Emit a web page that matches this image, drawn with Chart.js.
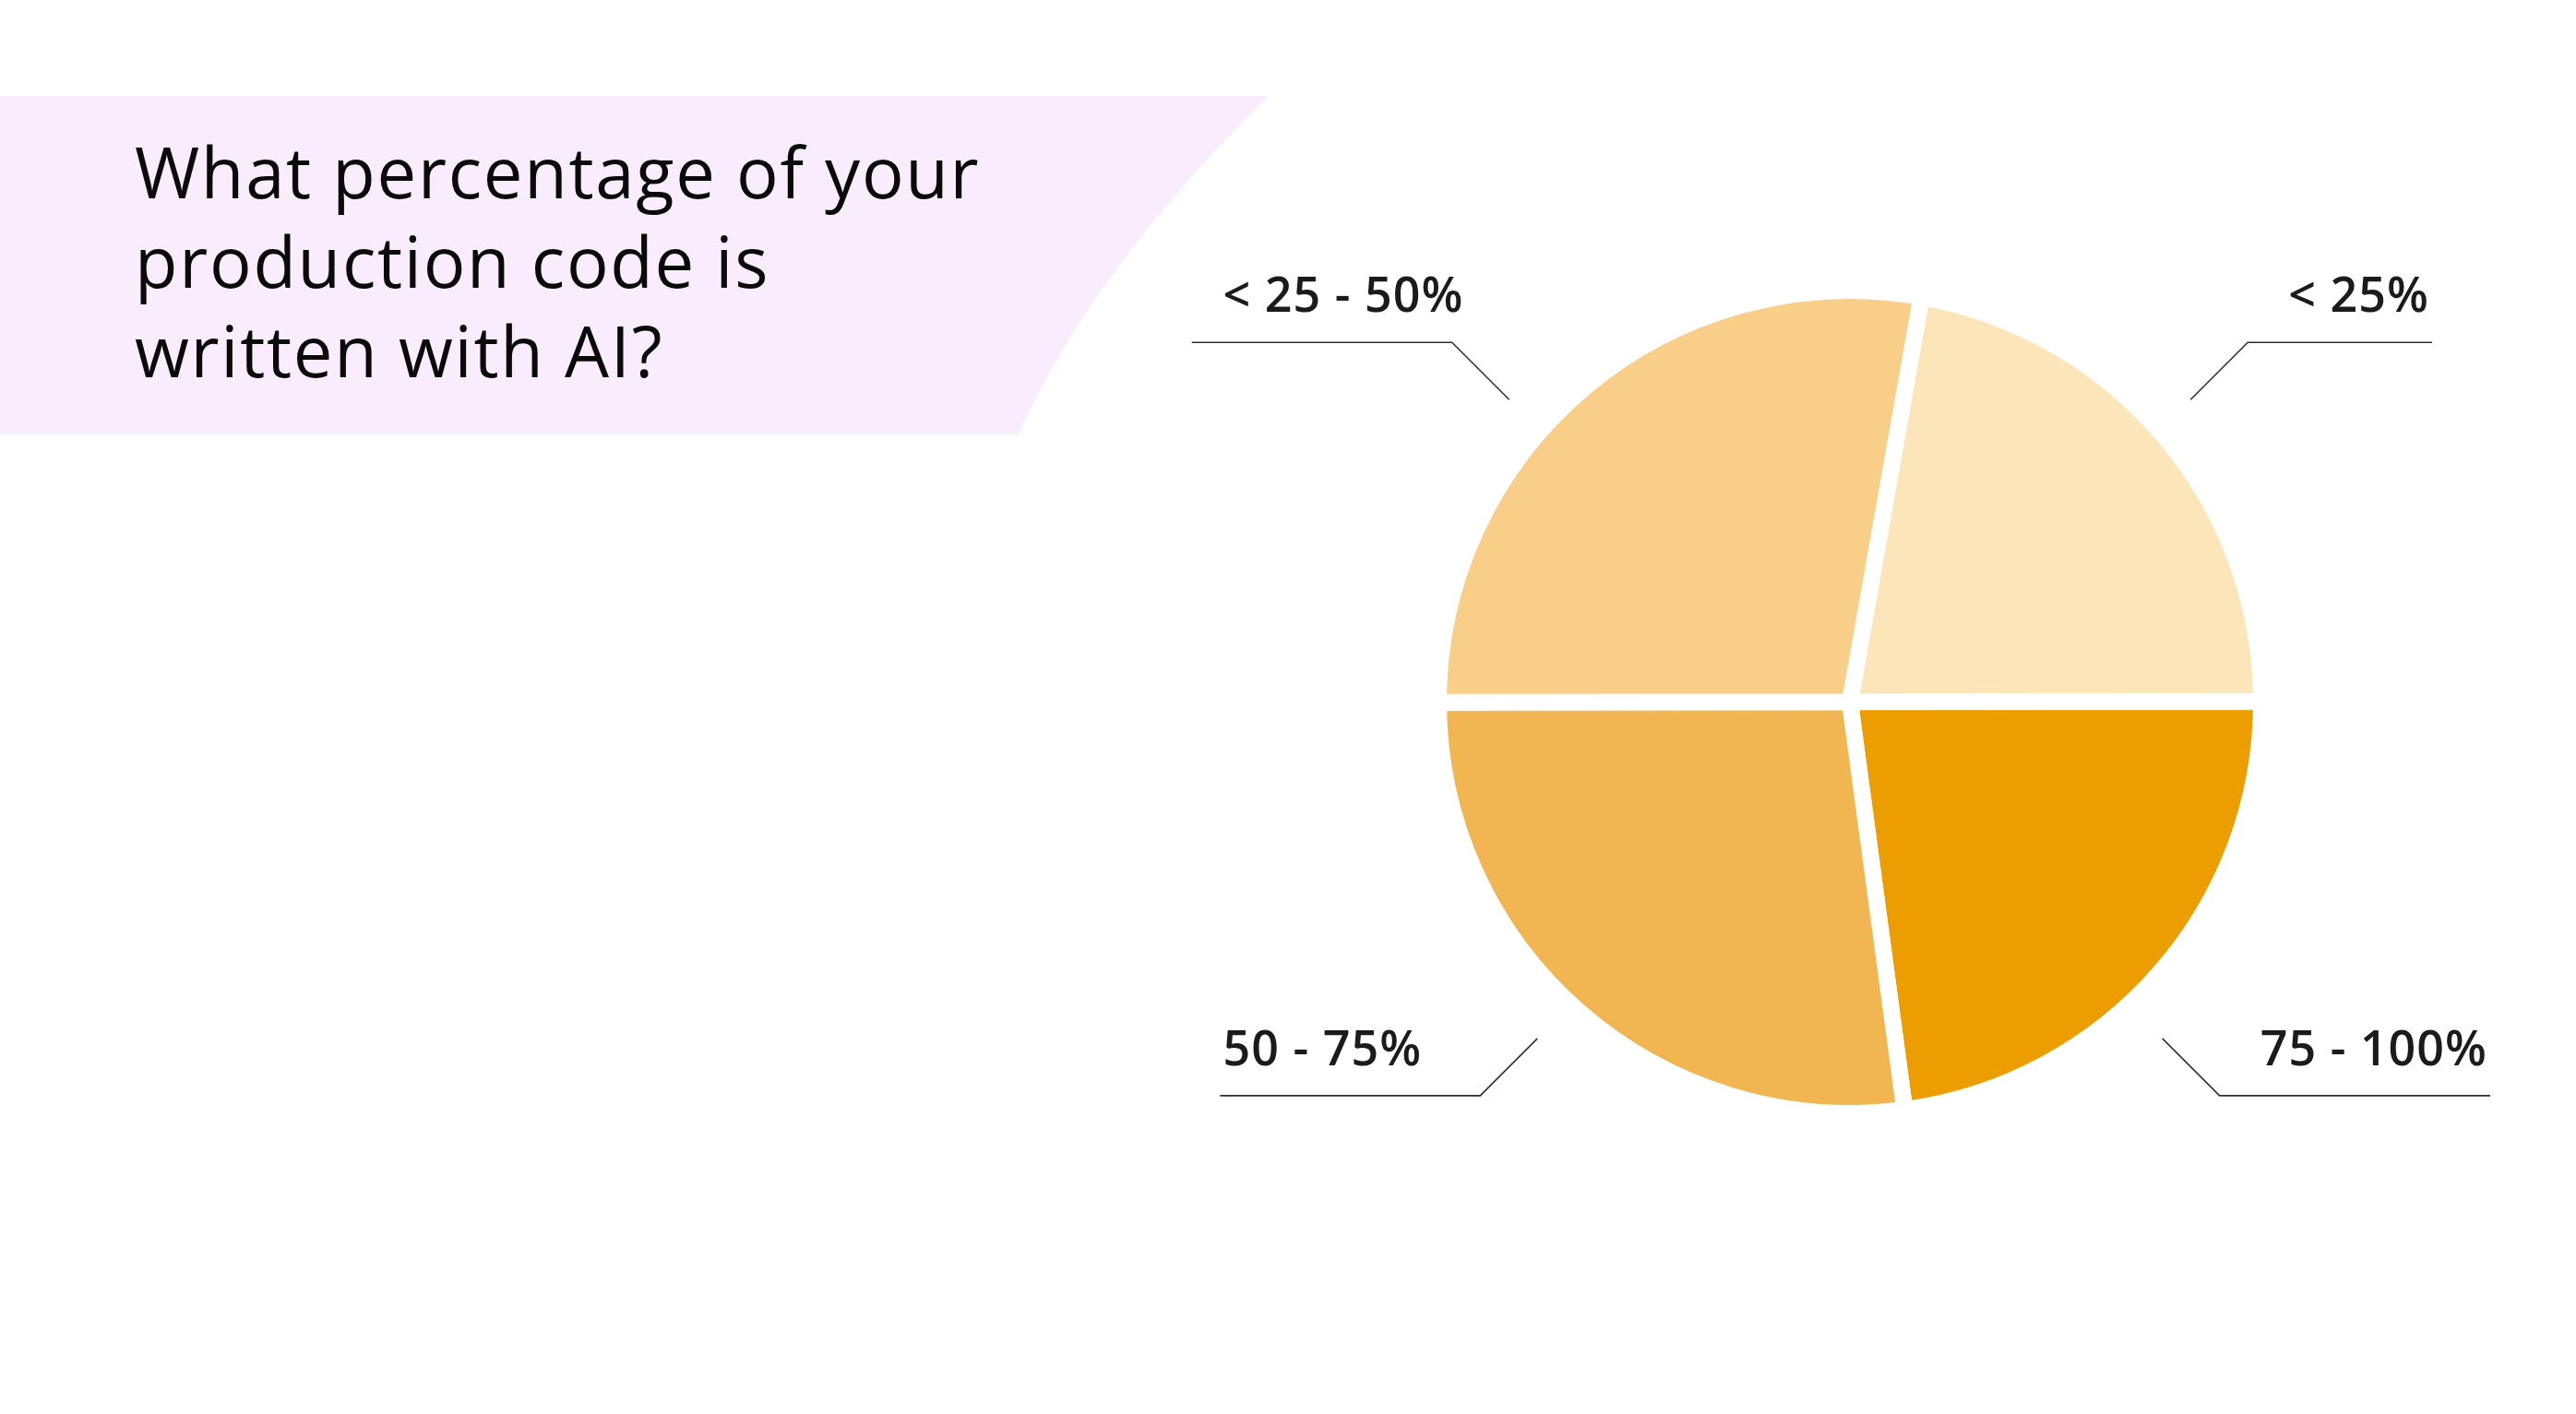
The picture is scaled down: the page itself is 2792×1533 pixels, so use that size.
<!DOCTYPE html>
<html>
<head>
<meta charset="utf-8">
<script src="https://cdn.jsdelivr.net/npm/chart.js@4.4.1/dist/chart.umd.min.js"></script>
<style>
  html, body { margin: 0; padding: 0; background: #fff; overflow: hidden; }
  #wrap { position: relative; width: 2792px; height: 1533px; }
  #chart { position: absolute; left: 0; top: 0; }
  #title {
    position: absolute; left: 146px; top: 137px; z-index: 2;
    font-family: "Open Sans", sans-serif; font-size: 76px; line-height: 97px;
    letter-spacing: 1.7px; color: #0a0a0a; font-weight: 400;
  }
</style>
</head>
<body>
<div id="wrap">
  <canvas id="chart" width="2792" height="1533"></canvas>
  <div id="title">What percentage of your<br>production code is<br>written with AI?</div>
</div>
<script>
// answers, clockwise from the top
const answers = ['< 25%', '75 - 100%', '50 - 75%', '< 25 - 50%'];
const shares = [22.2, 22.9, 27.1, 27.8];
const sliceColors = ['#FDE5BA', '#EC9D00', '#F1B552', '#F8CE89'];

// lavender band behind the title
const titleBand = {
    id: 'titleBand',
    beforeDraw(chart) {
        const ctx = chart.ctx;
        ctx.save();
        ctx.fillStyle = '#F9ECFC';
        ctx.beginPath();
        ctx.moveTo(0, 104);
        ctx.lineTo(1375, 104);
        ctx.quadraticCurveTo(1182, 294, 1104, 471);
        ctx.lineTo(0, 471);
        ctx.closePath();
        ctx.fill();
        ctx.restore();
    }
};

// elbow callouts with the answer text
const callouts = {
    id: 'callouts',
    afterDatasetsDraw(chart) {
        const ctx = chart.ctx;
        const arcs = chart.getDatasetMeta(0).data;
        ctx.save();
        ctx.strokeStyle = '#2e2e36';
        ctx.lineWidth = 1.6;
        ctx.fillStyle = '#1b1b1b';
        ctx.font = '600 52px "Open Sans", sans-serif';
        ctx.letterSpacing = '1px';
        ctx.textBaseline = 'alphabetic';
        ctx.textAlign = 'left';
        arcs.forEach((arc, i) => {
            const p = arc.getProps(['x', 'y', 'startAngle', 'endAngle', 'outerRadius'], true);
            const mid = (p.startAngle + p.endAngle) / 2;
            const sx = Math.cos(mid) < 0 ? -1 : 1;
            const sy = Math.sin(mid) < 0 ? -1 : 1;
            const r = p.outerRadius - 9;
            const ax = p.x + sx * r * (sy < 0 ? 0.845 : 0.775);
            const ay = p.y + sy * r * (sy < 0 ? 0.75 : 0.835);
            const ex = ax + sx * 62;
            const ey = ay + sy * 62;
            const textW = ctx.measureText(answers[i]).width;
            let endX, textX;
            if (sx < 0) {
                endX = ex - 282;
                textX = p.x - r * 1.555;
            } else {
                textX = ex + 44;
                endX = textX + textW + 3;
            }
            ctx.beginPath();
            ctx.moveTo(ax, ay);
            ctx.lineTo(ex, ey);
            ctx.lineTo(endX, ey);
            ctx.stroke();
            ctx.fillText(answers[i], textX, ey - 33);
        });
        ctx.restore();
    }
};

new Chart(document.getElementById('chart'), {
    type: 'pie',
    data: {
        labels: answers,
        datasets: [{
            data: shares,
            backgroundColor: sliceColors,
            borderColor: '#ffffff',
            borderWidth: 18,
            hoverOffset: 0
        }]
    },
    options: {
        responsive: false,
        animation: false,
        rotation: 10,
        layout: { padding: { left: 1550, right: 332, top: 306, bottom: 317 } },
        plugins: {
            legend: { display: false },
            tooltip: { enabled: false },
            title: { display: false }
        }
    },
    plugins: [titleBand, callouts]
});
</script>
</body>
</html>
